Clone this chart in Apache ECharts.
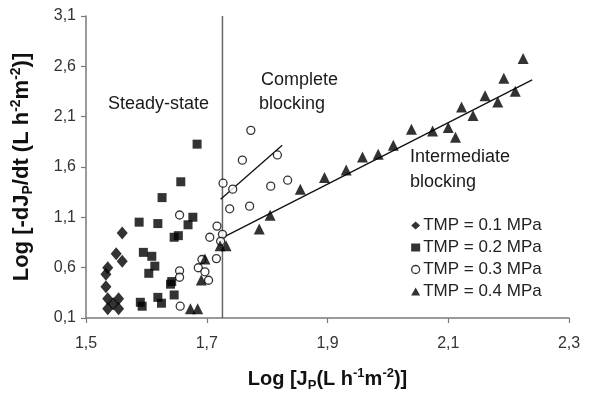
<!DOCTYPE html>
<html>
<head>
<meta charset="utf-8">
<script src="https://cdn.jsdelivr.net/npm/echarts@6/dist/echarts.min.js"></script>
<style>html,body{margin:0;padding:0;background:#fff}#c{width:610px;height:397px}</style>
</head>
<body>
<div id="c"></div>
<script>
const tmp01 = [[1.560,0.945],[1.550,0.739],[1.560,0.664],[1.536,0.599],[1.533,0.534],[1.533,0.410],[1.536,0.290],[1.554,0.290],[1.545,0.241],[1.536,0.192],[1.554,0.192]];
const tmp02 = [[1.684,1.827],[1.657,1.453],[1.626,1.296],[1.588,1.052],[1.619,1.038],[1.677,1.101],[1.669,1.026],[1.646,0.902],[1.653,0.918],[1.595,0.752],[1.609,0.713],[1.614,0.615],[1.604,0.544],[1.642,0.462],[1.640,0.436],[1.590,0.256],[1.593,0.217],[1.619,0.305],[1.625,0.247],[1.646,0.329]];
const tmp03 = [[1.655,1.123],[1.655,0.569],[1.655,0.505],[1.656,0.217],[1.686,0.599],[1.692,0.681],[1.697,0.559],[1.703,0.475],[1.716,0.690],[1.705,0.902],[1.717,1.013],[1.726,0.931],[1.723,0.862],[1.727,1.439],[1.738,1.185],[1.743,1.380],[1.771,1.211],[1.759,1.668],[1.773,1.964],[1.806,1.410],[1.817,1.720],[1.834,1.469]];
const tmp04 = [[1.673,0.192],[1.685,0.192],[1.691,0.478],[1.697,0.687],[1.722,0.817],[1.732,0.817],[1.787,0.984],[1.805,1.120],[1.855,1.378],[1.895,1.495],[1.931,1.570],[1.958,1.700],[1.984,1.727],[2.009,1.815],[2.039,1.974],[2.074,1.957],[2.100,1.993],[2.112,1.896],[2.122,2.196],[2.141,2.111],[2.161,2.309],[2.182,2.245],[2.192,2.482],[2.211,2.352],[2.224,2.678]];
const intermediateLine = [[1.723,0.889],[2.239,2.466]];
const completeLine = [[1.723,1.280],[1.825,1.817]];
const boundaryLine = [[1.726,0.1],[1.726,3.1]];
const seriesNames = ['TMP = 0.1 MPa','TMP = 0.2 MPa','TMP = 0.3 MPa','TMP = 0.4 MPa'];
const xTicks = {min:1.5,max:2.3,interval:0.2};
const yTicks = {min:0.1,max:3.1,interval:0.5};

const FONT = 'Liberation Sans, Arial, sans-serif';
const chart = echarts.init(document.getElementById('c'));
const fmt = v => (Math.round(v*10)/10).toFixed(1).replace('.', ',');
const axisCommon = {
  axisLine:{show:true,onZero:false,lineStyle:{color:'#7a7a7a',width:1.5}},
  axisTick:{show:true,inside:false,length:5,lineStyle:{color:'#7a7a7a',width:1.2}},
  splitLine:{show:false},
  axisLabel:{color:'#333',fontSize:16,fontFamily:FONT,formatter:fmt}
};
const richTitle = (big, small, lh) => ({
  a:{fontSize:big,fontWeight:'bold',fontFamily:FONT,color:'#111',lineHeight:lh},
  s:{fontSize:small,fontWeight:'bold',fontFamily:FONT,color:'#111',verticalAlign:'bottom',lineHeight:small+5},
  p:{fontSize:small,fontWeight:'bold',fontFamily:FONT,color:'#111',verticalAlign:'top',lineHeight:small+1}
});
const lineSeries = (data, color, width) => ({type:'line',data,symbol:'none',silent:true,
  lineStyle:{color,width},z:1,legendHoverLink:false});
chart.setOption({
  animation:false,
  backgroundColor:'#fff',
  grid:{left:86,right:41,top:16,bottom:74,containLabel:false},
  legend:{
    data:seriesNames, orient:'vertical', left:406, top:212, itemGap:5,
    itemWidth:9, itemHeight:8, itemStyle:{borderWidth:1.3},
    textStyle:{fontSize:17,fontFamily:FONT,color:'#222',padding:[0,0,0,-2]},
    selectedMode:false
  },
  xAxis:Object.assign({type:'value',min:xTicks.min,max:xTicks.max,interval:xTicks.interval,
    name:'{a|Log [J}{s|P}{a|(L h}{p|-1}{a|m}{p|-2}{a|)]}',nameLocation:'middle',nameGap:49,
    nameTextStyle:{rich:richTitle(20,13,25)}},axisCommon,{axisLabel:Object.assign({},axisCommon.axisLabel,{margin:18})}),
  yAxis:Object.assign({type:'value',min:yTicks.min,max:yTicks.max,interval:yTicks.interval,
    name:'{a|Log [-dJ}{s|P}{a|/dt (L h}{p|-2}{a|m}{p|-2}{a|)]}',nameLocation:'middle',nameGap:51,nameRotate:90,
    nameTextStyle:{rich:richTitle(22,14,26)}},axisCommon,{axisLabel:Object.assign({},axisCommon.axisLabel,{margin:10})}),
  graphic:[
    {type:'text',left:108,top:95,style:{text:'Steady-state',fontSize:18,fontFamily:FONT,fill:'#1a1a1a'}},
    {type:'text',left:261,top:71,style:{text:'Complete',fontSize:18,fontFamily:FONT,fill:'#1a1a1a'}},
    {type:'text',left:259,top:95,style:{text:'blocking',fontSize:18,fontFamily:FONT,fill:'#1a1a1a'}},
    {type:'text',left:410,top:148,style:{text:'Intermediate',fontSize:18,fontFamily:FONT,fill:'#1a1a1a'}},
    {type:'text',left:410,top:173,style:{text:'blocking',fontSize:18,fontFamily:FONT,fill:'#1a1a1a'}}
  ],
  series:[
    lineSeries(boundaryLine,'#666',1.5),
    lineSeries(completeLine,'#111',1.3),
    lineSeries(intermediateLine,'#111',1.3),
    {name:seriesNames[0],type:'scatter',data:tmp01,symbol:'diamond',symbolSize:[11,13],
      itemStyle:{color:'#000'},z:3},
    {name:seriesNames[1],type:'scatter',data:tmp02,symbol:'rect',symbolSize:9,
      itemStyle:{color:'#000'},z:3},
    {name:seriesNames[2],type:'scatter',data:tmp03,symbol:'circle',symbolSize:8,
      itemStyle:{color:'#fff',borderColor:'#000',borderWidth:1.3},z:3},
    {name:seriesNames[3],type:'scatter',data:tmp04,symbol:'triangle',symbolSize:[11,11],
      itemStyle:{color:'#000'},z:3}
  ]
});
</script>
</body>
</html>
